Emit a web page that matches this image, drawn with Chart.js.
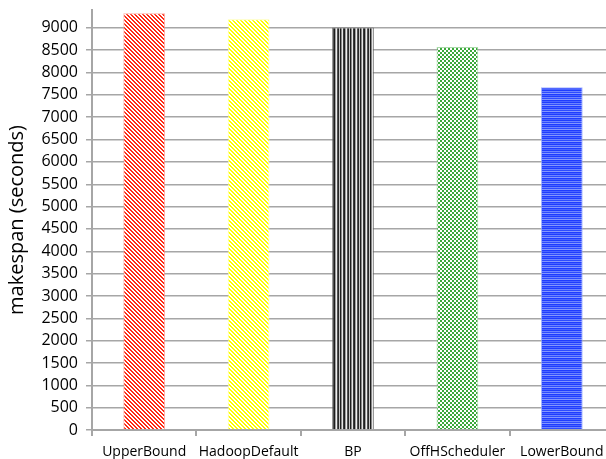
<!DOCTYPE html>
<html>
<head>
<meta charset="utf-8">
<script src="https://cdn.jsdelivr.net/npm/chart.js@4/dist/chart.umd.min.js"></script>
<style>
  html, body { margin: 0; padding: 0; background: #fff; overflow: hidden; }
  #wrap { position: relative; width: 614px; height: 459px; }
</style>
</head>
<body>
<div id="wrap"><canvas id="chart" width="614" height="459"></canvas></div>
<script>
// Makespan per scheduler (seconds)
const categories = ["UpperBound", "HadoopDefault", "BP", "OffHScheduler", "LowerBound"];
const makespan = [9330, 9195, 9010, 8570, 7670];
const yTicks = [0, 500, 1000, 1500, 2000, 2500, 3000, 3500, 4000, 4500, 5000,
                5500, 6000, 6500, 7000, 7500, 8000, 8500, 9000];
const yMax = 9400;

// Small tiled fills for each bar
function tile(w, h, paint) {
  const c = document.createElement("canvas");
  c.width = w; c.height = h;
  const g = c.getContext("2d");
  for (let y = 0; y < h; y++) {
    for (let x = 0; x < w; x++) {
      g.fillStyle = paint(x, y);
      g.fillRect(x, y, 1, 1);
    }
  }
  return g.createPattern(c, "repeat");
}

const ctx = document.getElementById("chart").getContext("2d");

const redHatch = tile(4, 4, (x, y) => (((x - y) % 4 + 4) % 4) < 2 ? "#ff2a14" : "#ffffff");
const yellowHatch = tile(4, 4, (x, y) => (((x - y) % 4 + 4) % 4) < 2 ? "#ffff00" : "#ffffff");
const bpCols = ["#1e1e1e", "#8a8a8a", "#e6e6e6", "#3c3c3c", "#1e1e1e", "#a0a0a0", "#f0f0f0", "#555555", "#2a2a2a", "#c8c8c8"];
const blackStripes = tile(bpCols.length, 1, (x) => bpCols[x]);
const greenCheck = tile(4, 4, (x, y) => ((Math.floor(x / 2) + Math.floor(y / 2)) % 2 === 0) ? "#3aa83a" : "#ffffff");
const blueRows = ["#1f3cff", "#6d84ff", "#2e4bff", "#8396ff", "#1f3cff", "#4a64ff"];
const blueLines = tile(1, blueRows.length, (x, y) => blueRows[y]);

const fills = [redHatch, yellowHatch, blackStripes, greenCheck, blueLines];
const edges = ["rgba(255,140,130,0.7)", "rgba(255,255,150,0.8)", "rgba(90,90,90,0.8)", "rgba(150,210,150,0.8)", "rgba(140,160,255,0.8)"];

const fontFamily = "'Open Sans', 'DejaVu Sans', sans-serif";

new Chart(ctx, {
  type: "bar",
  data: {
    labels: categories,
    datasets: [{
      data: makespan,
      backgroundColor: fills,
      borderColor: edges,
      borderWidth: 1,
      barPercentage: 0.4,
      categoryPercentage: 1.0
    }]
  },
  options: {
    responsive: false,
    animation: false,
    events: [],
    layout: { padding: { top: 10, right: 0, bottom: 0, left: 0 } },
    plugins: { legend: { display: false }, tooltip: { enabled: false } },
    scales: {
      x: {
        offset: true,
        border: { display: true, color: "#a6a6a6", width: 2 },
        grid: {
          offset: true,
          drawOnChartArea: false,
          drawTicks: true,
          tickLength: 6,
          color: "#a6a6a6",
          lineWidth: 2
        },
        ticks: {
          color: "#000",
          padding: 8,
          autoSkip: false,
          maxRotation: 0,
          minRotation: 0,
          font: { family: fontFamily, size: 14 }
        },
        afterFit: (scale) => { scale.height = 29; }
      },
      y: {
        min: 0,
        max: yMax,
        border: { display: true, color: "#a6a6a6", width: 2 },
        grid: {
          color: "#a6a6a6",
          lineWidth: 1.5,
          drawTicks: true,
          tickLength: 6
        },
        ticks: {
          autoSkip: false,
          color: "#000",
          padding: 8,
          font: { family: fontFamily, size: 16 },
          callback: (v) => String(v)
        },
        afterBuildTicks: (scale) => {
          scale.ticks = yTicks.map(v => ({ value: v }));
        },
        title: {
          display: true,
          text: "makespan (seconds)",
          color: "#000",
          padding: { top: 5, bottom: 0 },
          font: { family: fontFamily, size: 20 }
        },
        afterFit: (scale) => {
          scale.width = 92;
          scale.paddingTop = 0;
        }
      }
    }
  }
});
</script>
</body>
</html>
